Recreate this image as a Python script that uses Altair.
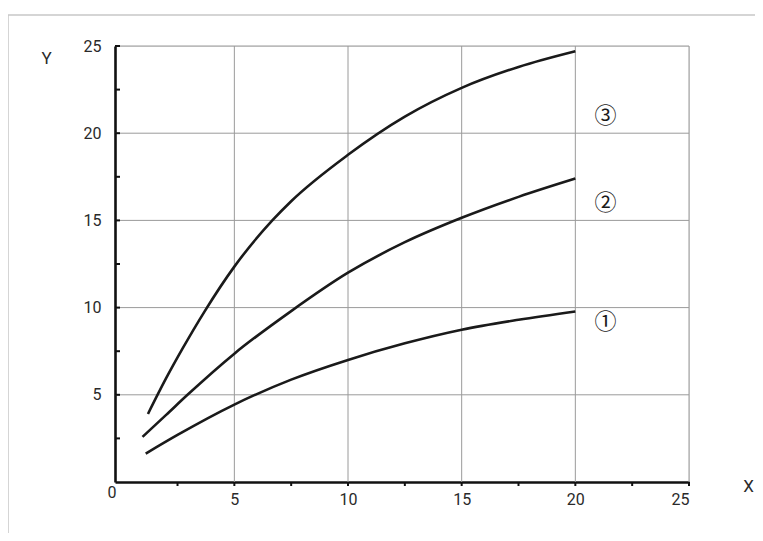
import altair as alt
import pandas as pd

# ---- data ----
curve1_x = [1.1, 2.5, 5, 7.5, 10, 12.5, 15, 17.5, 20]
curve1_y = [1.63, 2.7, 4.44, 5.87, 7.0, 7.95, 8.73, 9.3, 9.78]
curve2_x = [0.96, 2, 2.94, 5, 7.5, 10, 12.5, 15, 17.5, 20]
curve2_y = [2.59, 3.85, 5.0, 7.36, 9.8, 12.0, 13.75, 15.15, 16.35, 17.4]
curve3_x = [1.2, 2, 2.7, 3.7, 5, 6.67, 7.5, 10, 12.5, 15, 17.5, 20]
curve3_y = [3.9, 5.95, 7.6, 9.8, 12.35, 15.0, 16.1, 18.76, 20.95, 22.6, 23.8, 24.7]

series_labels = ["①", "②", "③"]
label_x = [21.33, 21.33, 21.33]
label_y = [9.2, 16.0, 21.0]

x_grid = [5, 10, 15, 20, 25]
y_grid = [5, 10, 15, 20, 25]
minor_ticks = [2.5, 5, 7.5, 10, 12.5, 15, 17.5, 20, 22.5, 25]
x_labels = [5, 10, 15, 20, 25]
y_labels = [5, 10, 15, 20, 25]

title_text = "Maximum lifetime of batteries  for: DN25...200"

# ---- build tables ----
rows = []
for name, xv_list, yv_list in [("1", curve1_x, curve1_y), ("2", curve2_x, curve2_y), ("3", curve3_x, curve3_y)]:
    for xv, yv in zip(xv_list, yv_list):
        rows.append({"series": name, "x": xv, "y": yv})
lines_df = pd.DataFrame(rows)
labels_df = pd.DataFrame({"t": series_labels, "x": label_x, "y": label_y})
xgrid_df = pd.DataFrame({"x": x_grid})
ygrid_df = pd.DataFrame({"y": y_grid})
xticks_df = pd.DataFrame({"x": minor_ticks})
yticks_df = pd.DataFrame({"y": minor_ticks})
zero_df = pd.DataFrame({"t": ["0"], "x": [-0.38], "y": [-0.65]})

W, H = 574, 436
xs = alt.Scale(domain=[-0.25, 25], nice=False, zero=False)
ys = alt.Scale(domain=[0, 25], nice=False, zero=False)

FONT = "Roboto"
LBL = 16

ax_x = alt.Axis(
    values=x_labels, title="X", grid=False, ticks=False,
    domainColor="#111", domainWidth=2.6,
    labelFont=FONT, labelFontSize=LBL, labelColor="#2a2a2a", labelPadding=9,
    titleFont=FONT, titleFontSize=17, titleFontWeight="normal", titleColor="#2a2a2a",
    titleX=633, titleY=4, titleAlign="center", titleBaseline="middle", titleAngle=0,
)
ax_y = alt.Axis(
    values=y_labels, title="Y", grid=False, ticks=False,
    domainColor="#111", domainWidth=2.6,
    labelFont=FONT, labelFontSize=LBL, labelColor="#2a2a2a", labelPadding=14,
    titleFont=FONT, titleFontSize=17, titleFontWeight="normal", titleColor="#2a2a2a",
    titleX=-69, titleY=12, titleAlign="center", titleBaseline="middle", titleAngle=0,
)
X = lambda: alt.X("x:Q", scale=xs, axis=ax_x)
Y = lambda: alt.Y("y:Q", scale=ys, axis=ax_y)

frame = alt.Chart(pd.DataFrame({"a": [0]})).mark_rect(
    fill=None, stroke="#c8c8c8", strokeWidth=1.5
).encode(x=alt.value(-107), x2=alt.value(700), y=alt.value(-31), y2=alt.value(520))

title = alt.Chart(pd.DataFrame({"t": [title_text]})).mark_text(
    align="left", baseline="alphabetic", fontSize=20, font=FONT, fontWeight=600, color="#222"
).encode(x=alt.value(-107), y=alt.value(-40), text="t:N")

vgrid = alt.Chart(xgrid_df).mark_rule(color="#9a9a9a", strokeWidth=1).encode(
    x=X(), y=alt.value(0), y2=alt.value(H)
)
hgrid = alt.Chart(ygrid_df).mark_rule(color="#9a9a9a", strokeWidth=1).encode(
    y=Y(), x=alt.value(0), x2=alt.value(W)
)
xticks = alt.Chart(xticks_df).mark_rule(color="#111", strokeWidth=2).encode(
    x=X(), y=alt.value(H), y2=alt.value(H + 4)
)
yticks = alt.Chart(yticks_df).mark_rule(color="#111", strokeWidth=2).encode(
    y=Y(), x=alt.value(0), x2=alt.value(5)
)

lines = alt.Chart(lines_df).mark_line(
    color="#1a1a1a", strokeWidth=2.6, interpolate="monotone"
).encode(x=X(), y=Y(), detail="series:N")

zero_label = alt.Chart(zero_df).mark_text(
    fontSize=LBL, font=FONT, color="#2a2a2a", align="center", baseline="middle"
).encode(x=X(), y=Y(), text="t:N")

circ = alt.Chart(labels_df).mark_text(
    fontSize=22, font="Noto Sans CJK JP", color="#1a1a1a", align="center", baseline="middle"
).encode(x=X(), y=Y(), text="t:N")

chart = alt.layer(
    frame, title, vgrid, hgrid, xticks, yticks, lines, zero_label, circ
).properties(
    width=W, height=H,
    autosize=alt.AutoSizeParams(type="none"),
    padding={"left": 107, "top": 38, "right": 66, "bottom": 51},
).configure_view(stroke=None).configure(background="white")

chart.save("out.html", embed_options={"renderer": "svg", "actions": False})
